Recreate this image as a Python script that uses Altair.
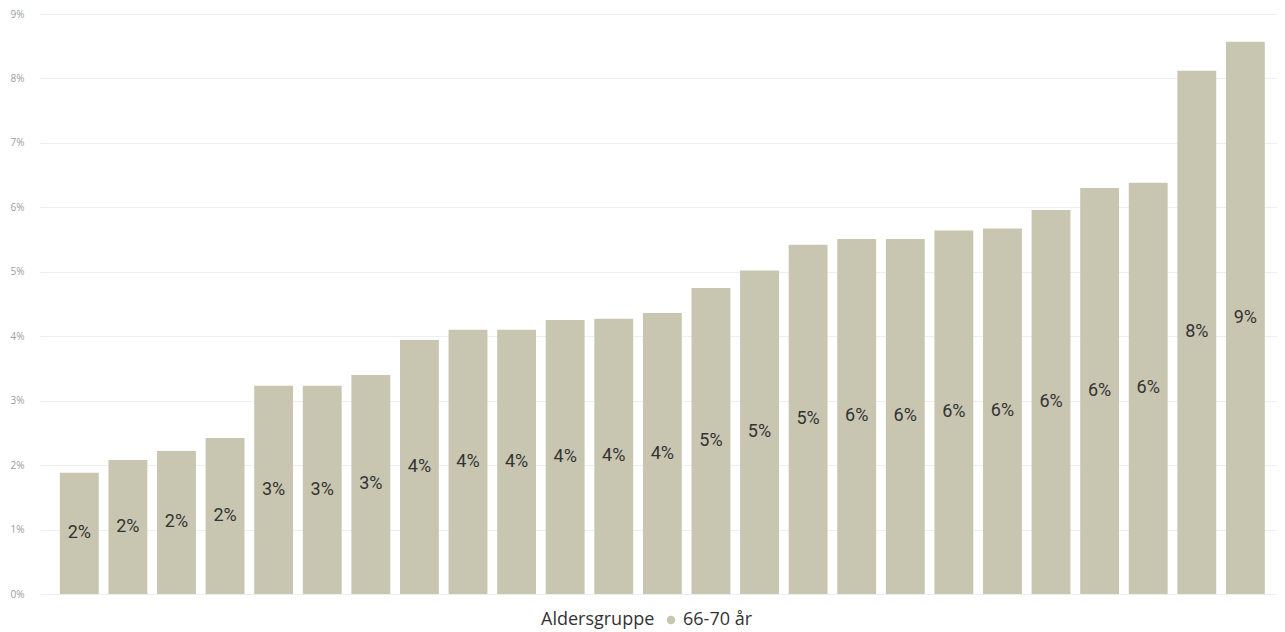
import altair as alt
import pandas as pd

categories = [f"Kategori {i}" for i in range(1, 26)]
values = [0.0188, 0.0208, 0.0222, 0.0242, 0.0323, 0.0323, 0.0340, 0.0394,
          0.0410, 0.0410, 0.0425, 0.0427, 0.0436, 0.0475, 0.0502, 0.0542,
          0.0551, 0.0551, 0.0564, 0.0567, 0.0596, 0.0630, 0.0638, 0.0812, 0.0857]
series = ["66-70 år"] * len(values)
y_ticks = [0, 0.01, 0.02, 0.03, 0.04, 0.05, 0.06, 0.07, 0.08, 0.09]

df = pd.DataFrame({"kategori": categories, "andel": values, "Aldersgruppe": series})

x = alt.X("kategori:N", sort=None,
          scale=alt.Scale(paddingInner=0.2, paddingOuter=0.33, align=0.62),
          axis=alt.Axis(labels=False, ticks=False, domain=False, title=None, grid=False))

bars = alt.Chart(df).mark_bar(color="#C8C6B0").encode(
    x=x,
    y=alt.Y("andel:Q", scale=alt.Scale(domain=[0, 0.09], nice=False),
            axis=alt.Axis(values=y_ticks, format=".0%", title=None, domain=False,
                          ticks=False, labelPadding=16, labelColor="#9a9ca6",
                          labelFontSize=10, labelFont="Open Sans",
                          gridColor="#eeeeee", gridWidth=1)),
    color=alt.Color("Aldersgruppe:N",
                    scale=alt.Scale(range=["#C8C6B0"]),
                    legend=alt.Legend(orient="none", legendX=501, legendY=597,
                                      direction="horizontal",
                                      titleOrient="left", symbolType="circle",
                                      symbolSize=70, symbolOpacity=1,
                                      titleFont="Open Sans", titleFontSize=18,
                                      titleFontWeight="normal", titleColor="#333333",
                                      labelFont="Open Sans", labelFontSize=18,
                                      labelColor="#333333", titlePadding=7,
                                      labelOffset=3)),
)

labels = alt.Chart(df).transform_calculate(
    mid="datum.andel / 2"
).mark_text(font="Roboto", fontSize=18, color="#333333", baseline="middle").encode(
    x=x,
    y=alt.Y("mid:Q"),
    text=alt.Text("andel:Q", format=".0%"),
)

chart = alt.layer(bars, labels).properties(
    width=1237, height=580,
    padding={"left": 2, "top": 1, "right": 0, "bottom": 0},
).configure_view(stroke=None)

chart.save("out.html", embed_options={"renderer": "svg", "actions": False})
